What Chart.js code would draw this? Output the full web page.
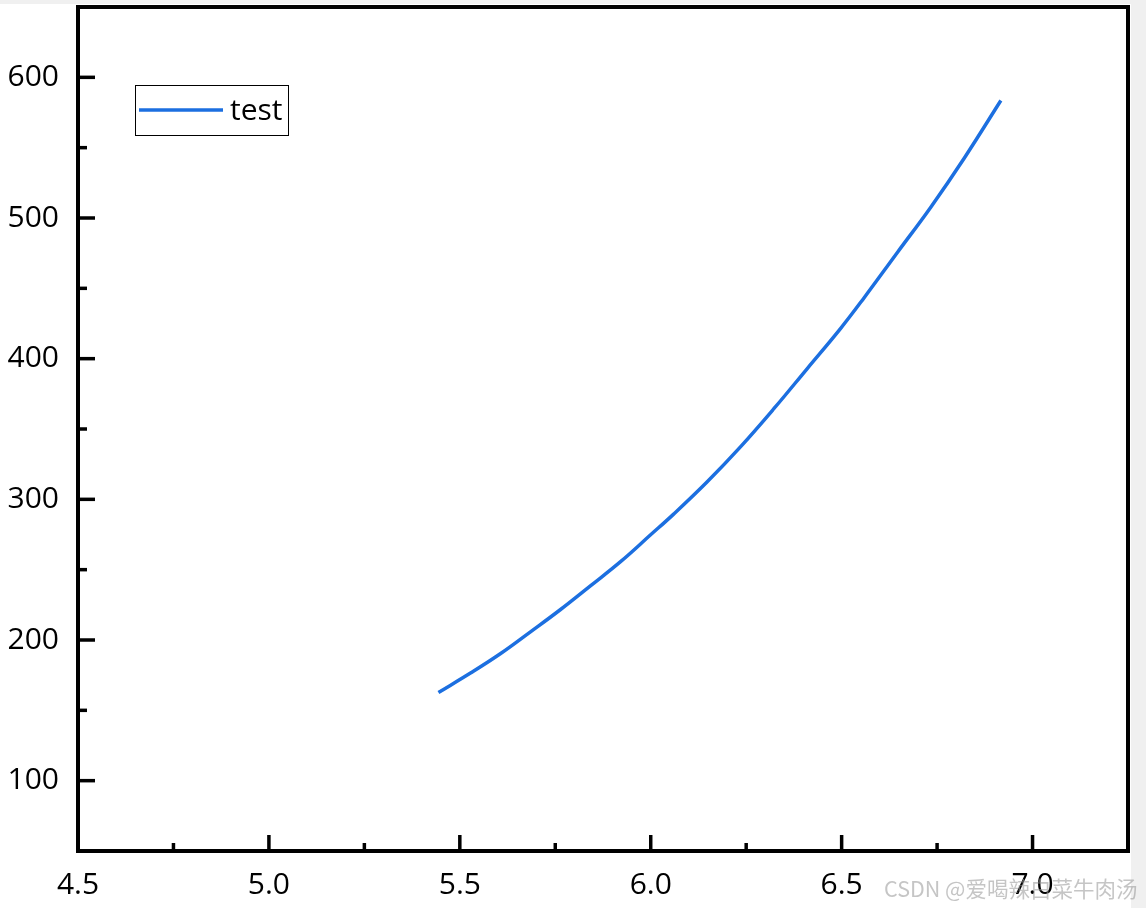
<!DOCTYPE html>
<html>
<head>
<meta charset="utf-8">
<script src="https://cdn.jsdelivr.net/npm/chart.js@4"></script>
<style>
  html, body { margin: 0; padding: 0; background: #f0f0f0; }
  #wrap { position: relative; width: 1146px; height: 908px; overflow: hidden; }
  #paper { position: absolute; left: 0; top: 4px; width: 1131px; height: 904px; background: #fff; }
  #chart { position: absolute; left: 0; top: 0; }
  #mark {
    position: absolute; left: 884px; top: 872px;
    font-family: "Noto Sans CJK SC", "Noto Sans", sans-serif; font-size: 21.5px;
    color: rgba(150, 150, 150, 0.55); white-space: nowrap;
  }
</style>
</head>
<body>
<div id="wrap">
  <div id="paper"></div>
  <canvas id="chart" width="1146" height="908"></canvas>
  <div id="mark">CSDN @爱喝辣白菜牛肉汤</div>
</div>
<script>
// ------------------ Data ------------------
const SERIES_LABEL = "test";
const xValues = [5.444, 5.528, 5.606, 5.685, 5.763, 5.842, 5.921, 5.999, 6.060, 6.148,
                 6.235, 6.323, 6.410, 6.497, 6.558, 6.646, 6.733, 6.821, 6.917];
const yValues = [162.7, 176.5, 190.2, 205.8, 221.5, 238.5, 255.7, 274.6, 289.5, 312.5,
                 337.3, 364.6, 393.0, 421.4, 443.0, 475.5, 507.5, 542.5, 583.5];

const xMajorTicks = [4.5, 5.0, 5.5, 6.0, 6.5, 7.0];
const xMinorTicks = [4.75, 5.25, 5.75, 6.25, 6.75];
const yMajorTicks = [100, 200, 300, 400, 500, 600];
const yMinorTicks = [150, 250, 350, 450, 550];

const LINE_COLOR = "#1c6fe0";
const FONT = "'Open Sans', 'Noto Sans', sans-serif";

// frame + inward tick marks, Origin style
const framePlugin = {
    id: "frame",
    afterDraw(chart) {
        const { ctx, chartArea: a, scales } = chart;
        ctx.save();
        ctx.strokeStyle = "#000";
        ctx.lineWidth = 4;
        ctx.lineCap = "butt";
        ctx.strokeRect(a.left, a.top, a.right - a.left, a.bottom - a.top);

        const tick = (x1, y1, x2, y2) => {
            ctx.beginPath();
            ctx.moveTo(x1, y1);
            ctx.lineTo(x2, y2);
            ctx.stroke();
        };
        ctx.lineWidth = 3.5;
        xMajorTicks.forEach(v => { const p = scales.x.getPixelForValue(v); tick(p, a.bottom, p, a.bottom - 16); });
        xMinorTicks.forEach(v => { const p = scales.x.getPixelForValue(v); tick(p, a.bottom, p, a.bottom - 8); });
        yMajorTicks.forEach(v => { const p = scales.y.getPixelForValue(v); tick(a.left, p, a.left + 17, p); });
        yMinorTicks.forEach(v => { const p = scales.y.getPixelForValue(v); tick(a.left, p, a.left + 9, p); });
        ctx.restore();
    }
};

// legend box drawn inside the plot area
const insideLegend = {
    id: "insideLegend",
    afterDraw(chart) {
        const { ctx, chartArea: a } = chart;
        const ds = chart.data.datasets[0];
        const bx = a.left + 57, by = a.top + 78, bw = 153, bh = 50;
        ctx.save();
        ctx.strokeStyle = "#000";
        ctx.lineWidth = 1;
        ctx.strokeRect(bx + 0.5, by + 0.5, bw, bh);
        ctx.strokeStyle = ds.borderColor;
        ctx.lineWidth = 3.5;
        ctx.beginPath();
        ctx.moveTo(bx + 4, by + 25);
        ctx.lineTo(bx + 88, by + 25);
        ctx.stroke();
        ctx.fillStyle = "#000";
        ctx.font = "30px " + FONT;
        ctx.textBaseline = "middle";
        ctx.fillText(ds.label, bx + 95, by + 26);
        ctx.restore();
    }
};

function renderChart() {
    const points = xValues.map((x, i) => ({ x, y: yValues[i] }));
    new Chart(document.getElementById("chart"), {
        type: "line",
        data: {
            datasets: [{
                label: SERIES_LABEL,
                data: points,
                borderColor: LINE_COLOR,
                borderWidth: 3.5,
                pointRadius: 0,
                fill: false,
                tension: 0.4
            }]
        },
        options: {
            responsive: false,
            animation: false,
            layout: { padding: { left: 0, top: 7, right: 18, bottom: 0 } },
            plugins: {
                legend: { display: false },
                tooltip: { enabled: false }
            },
            scales: {
                x: {
                    type: "linear",
                    min: 4.5,
                    max: 7.25,
                    grid: { display: false, drawTicks: false },
                    border: { display: false },
                    afterBuildTicks: s => { s.ticks = xMajorTicks.map(v => ({ value: v })); },
                    afterFit: s => {
                        s.height = 57;
                        s.paddingLeft = 0;
                        s.paddingRight = 0;
                    },
                    ticks: {
                        padding: 16,
                        color: "#000",
                        font: { family: FONT, size: 30 },
                        maxRotation: 0,
                        autoSkip: false,
                        callback: v => Number(v).toFixed(1)
                    }
                },
                y: {
                    type: "linear",
                    min: 50,
                    max: 650,
                    grid: { display: false, drawTicks: false },
                    border: { display: false },
                    afterBuildTicks: s => { s.ticks = yMajorTicks.map(v => ({ value: v })); },
                    afterFit: s => {
                        s.width = 78;
                        s.paddingTop = 0;
                        s.paddingBottom = 0;
                    },
                    ticks: {
                        padding: 19,
                        color: "#000",
                        autoSkip: false,
                        font: { family: FONT, size: 30 },
                        callback: v => String(v)
                    }
                }
            }
        },
        plugins: [framePlugin, insideLegend]
    });
}

document.addEventListener("DOMContentLoaded", renderChart);
</script>
</body>
</html>
